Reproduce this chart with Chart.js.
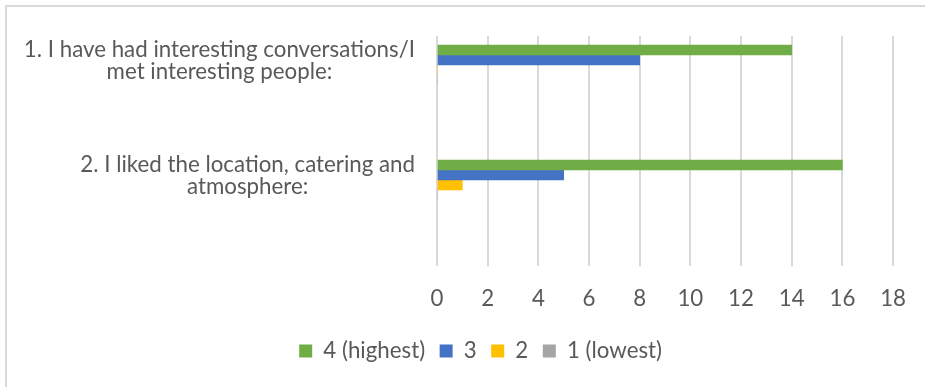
<!DOCTYPE html>
<html>
<head>
<meta charset="utf-8">
<script src="https://cdn.jsdelivr.net/npm/chart.js@4/dist/chart.umd.min.js"></script>
<style>
  html, body { margin: 0; padding: 0; background: #ffffff; }
  #wrap { width: 925px; height: 387px; position: relative; }
</style>
</head>
<body>
<div id="wrap"><canvas id="chart" width="925" height="387"></canvas></div>
<script>
// Survey statements (each split over two lines)
const categories = [
  ['1. I have had interesting conversations/I', 'met interesting people:'],
  ['2. I liked the location, catering and', 'atmosphere:']
];

// Rating series
const seriesNames = ['4 (highest)', '3', '2', '1 (lowest)'];
const ratingHighest = [14, 16];
const ratingThree = [8, 5];
const ratingTwo = [0, 1];
const ratingLowest = [0, 0];

// Value axis tick labels
const valueTicks = [0, 2, 4, 6, 8, 10, 12, 14, 16, 18];

const seriesValues = [ratingHighest, ratingThree, ratingTwo, ratingLowest];
const seriesColors = ['#70ad47', '#4472c4', '#ffc000', '#a5a5a5'];

const textColor = '#595959';
const fontFamily = 'Lato, "Open Sans", sans-serif';
const fontSize = 22.3;

// Statement labels: each block sits right-aligned against the plot,
// with its lines centred on one another.
const statementLabels = {
  id: 'statementLabels',
  afterDraw(chart) {
    const { ctx, chartArea, scales } = chart;
    const yScale = scales.y;
    ctx.save();
    ctx.font = fontSize + 'px ' + fontFamily;
    ctx.fillStyle = textColor;
    ctx.textAlign = 'center';
    ctx.textBaseline = 'alphabetic';
    const rightEdge = chartArea.left - 22;
    const lineGap = 22;
    categories.forEach((lines, i) => {
      const widest = Math.max(...lines.map(l => ctx.measureText(l).width));
      const cx = rightEdge - widest / 2;
      const cy = yScale.getPixelForValue(i + 1);
      lines.forEach((line, k) => {
        ctx.fillText(line, cx, cy - 8 + k * lineGap);
      });
    });
    ctx.restore();
  }
};

// Light frame around the chart
const chartFrame = {
  id: 'chartFrame',
  beforeDraw(chart) {
    const { ctx, width, height } = chart;
    ctx.save();
    ctx.strokeStyle = '#d9d9d9';
    ctx.lineWidth = 2;
    ctx.beginPath();
    ctx.moveTo(6, height + 2);
    ctx.lineTo(6, 6);
    ctx.lineTo(width + 2, 6);
    ctx.stroke();
    ctx.restore();
  }
};

new Chart(document.getElementById('chart'), {
  type: 'bar',
  data: {
    datasets: seriesNames.map((name, s) => ({
      label: name,
      data: seriesValues[s].map((v, i) => ({ x: v, y: i + 1 })),
      backgroundColor: seriesColors[s],
      borderWidth: 0,
      barThickness: 10
    }))
  },
  options: {
    indexAxis: 'y',
    responsive: false,
    animation: false,
    layout: { padding: { top: 36, left: 62, right: 25.8, bottom: 14.85 } },
    scales: {
      x: {
        type: 'linear',
        min: 0,
        max: 18,
        afterBuildTicks(scale) {
          scale.ticks = valueTicks.map(v => ({ value: v }));
        },
        afterFit(scale) { scale.height = 59.35; },
        grid: { color: '#d9d9d9', lineWidth: 2, drawTicks: false },
        border: { display: false },
        ticks: {
          padding: 19,
          color: textColor,
          font: { family: fontFamily, size: fontSize }
        }
      },
      y: {
        type: 'linear',
        reverse: true,
        offset: false,
        min: 0.748,
        max: 2.748,
        afterFit(scale) { scale.width = 375; },
        grid: { display: false },
        border: { display: false },
        ticks: { display: false }
      }
    },
    plugins: {
      legend: {
        position: 'bottom',
        labels: {
          boxWidth: 13,
          boxHeight: 13,
          padding: 14.5,
          color: textColor,
          font: { family: fontFamily, size: fontSize }
        }
      },
      tooltip: { enabled: false }
    }
  },
  plugins: [chartFrame, statementLabels]
});
</script>
</body>
</html>
